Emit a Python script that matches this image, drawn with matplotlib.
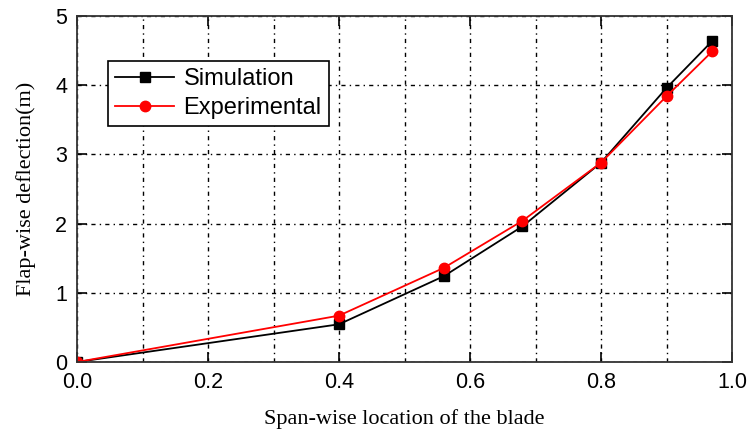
import matplotlib
matplotlib.use("Agg")
import matplotlib.pyplot as plt

x_sim = [0.0, 0.4, 0.56, 0.68, 0.8, 0.9, 0.97]
y_sim = [0.0, 0.545, 1.24, 1.96, 2.88, 3.96, 4.64]
x_exp = [0.0, 0.4, 0.56, 0.68, 0.8, 0.9, 0.97]
y_exp = [0.0, 0.67, 1.36, 2.04, 2.88, 3.84, 4.49]
xticks = [0.0, 0.2, 0.4, 0.6, 0.8, 1.0]
xtick_labels = ["0.0", "0.2", "0.4", "0.6", "0.8", "1.0"]
yticks = [0, 1, 2, 3, 4, 5]

fig = plt.figure(figsize=(7.5, 4.32), dpi=100)
ax = fig.add_axes([77/750, 1-362/432, (732-77)/750, (362-16)/432])

ax.plot(x_sim, y_sim, color="black", marker="s", markersize=7, linewidth=1.3, label="Simulation")
ax.plot(x_exp, y_exp, color="red", marker="o", markersize=7.5, linewidth=1.3, label="Experimental")

ax.set_xlim(0, 1.0)
ax.set_ylim(0, 5)
ax.set_xticks(xticks)
ax.set_xticklabels(xtick_labels)
ax.set_yticks(yticks)
ax.set_xticks([0.1, 0.3, 0.5, 0.7, 0.9], minor=True)
ax.grid(True, which="both", axis="x", color="black", linestyle=(0, (3, 3, 1, 3)), linewidth=1.0)
ax.grid(True, which="major", axis="y", color="black", linestyle=(0, (3, 3, 1, 3)), linewidth=1.0)
ax.tick_params(which="both", direction="in", top=True, right=True, length=7, width=1.2,
               labelsize=15.5, pad=7)
ax.tick_params(which="minor", length=0)
for lab in ax.get_xticklabels() + ax.get_yticklabels():
    lab.set_family("Liberation Sans")
for s in ax.spines.values():
    s.set_linewidth(1.3)
    s.set_color("#333333")

ax.set_xlabel("Span-wise location of the blade", family="Liberation Serif", fontsize=16, labelpad=12)
ax.set_ylabel("Flap-wise deflection(m)", family="Liberation Serif", fontsize=16, labelpad=14)

leg = ax.legend(loc="upper left", bbox_to_anchor=((108-77)/655, 1-(61-16)/346),
                prop={"family": "Liberation Sans", "size": 17}, frameon=True, fancybox=False,
                edgecolor="black", framealpha=1, borderpad=0.3, handlelength=2.5,
                labelspacing=0.3, handletextpad=0.4, borderaxespad=0)
leg.get_frame().set_linewidth(1.2)

fig.savefig("out.png", dpi=100)
